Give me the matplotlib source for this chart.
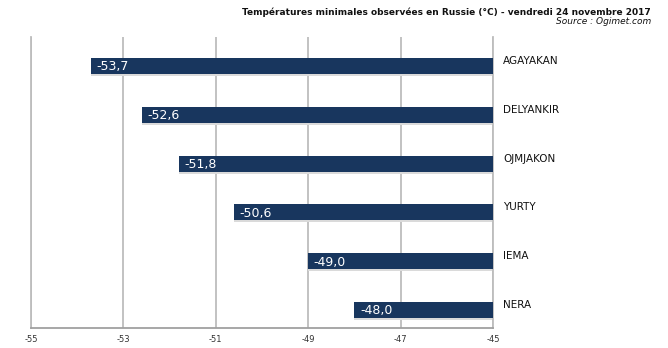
import matplotlib.pyplot as plt
import numpy as np

stations = ["AGAYAKAN", "DELYANKIR", "OJMJAKON", "YURTY", "IEMA", "NERA"]
temps = [-53.7, -52.6, -51.8, -50.6, -49.0, -48.0]
xticks = [-55, -53, -51, -49, -47, -45]

BAR_COLOR = "#18365E"
GRID_COLOR = "#BDBDBD"
BASE = -45

fig = plt.figure(figsize=(6.68, 3.48), dpi=100)
fig.patch.set_facecolor("white")
ax = fig.add_axes([31 / 668, 20 / 348, 462 / 668, 291 / 348])

y = np.arange(len(stations))
widths = [t - BASE for t in temps]

# soft drop shadow under each bar
ax.barh(y + 0.04, widths, left=BASE, height=0.33, color="#DADADA", zorder=2)
ax.barh(y, widths, left=BASE, height=0.33, color=BAR_COLOR, zorder=3)

for yi, t, name in zip(y, temps, stations):
    ax.text(t + 0.12, yi + 0.02, f"{t:.1f}".replace(".", ","), color="white",
            fontsize=9, ha="left", va="center", zorder=4)
    ax.text(BASE + 0.22, yi - 0.1, name, color="#111111", fontsize=7.5,
            ha="left", va="center", clip_on=False)

ax.set_xlim(-55, -45)
ax.set_ylim(5.37, -0.594)
ax.set_xticks(xticks)
ax.set_xticklabels([str(v) for v in xticks], fontsize=6, color="#333333")
ax.tick_params(axis="x", length=0, pad=5)
ax.set_yticks([])
ax.grid(axis="x", color=GRID_COLOR, linewidth=1.3, zorder=1)
ax.set_axisbelow(True)

# full-width line at the left edge so it isn't half-clipped
ax.axvline(xticks[0], color=GRID_COLOR, linewidth=1.3, zorder=1, clip_on=False)

for side in ["top", "left"]:
    ax.spines[side].set_visible(False)
ax.spines["bottom"].set_color("#A0A0A0")
ax.spines["bottom"].set_linewidth(1.3)
ax.spines["right"].set_color(GRID_COLOR)
ax.spines["right"].set_linewidth(1.3)

fig.text(651 / 668, 1 - 12 / 348,
         "Températures minimales observées en Russie (°C) - vendredi 24 novembre 2017",
         ha="right", va="center", fontsize=6.45, fontweight="bold", color="#111111")
fig.text(651 / 668, 1 - 22 / 348, "Source : Ogimet.com",
         ha="right", va="center", fontsize=6.5, fontstyle="italic", color="#111111")

fig.savefig("out.png", dpi=100, facecolor="white")
